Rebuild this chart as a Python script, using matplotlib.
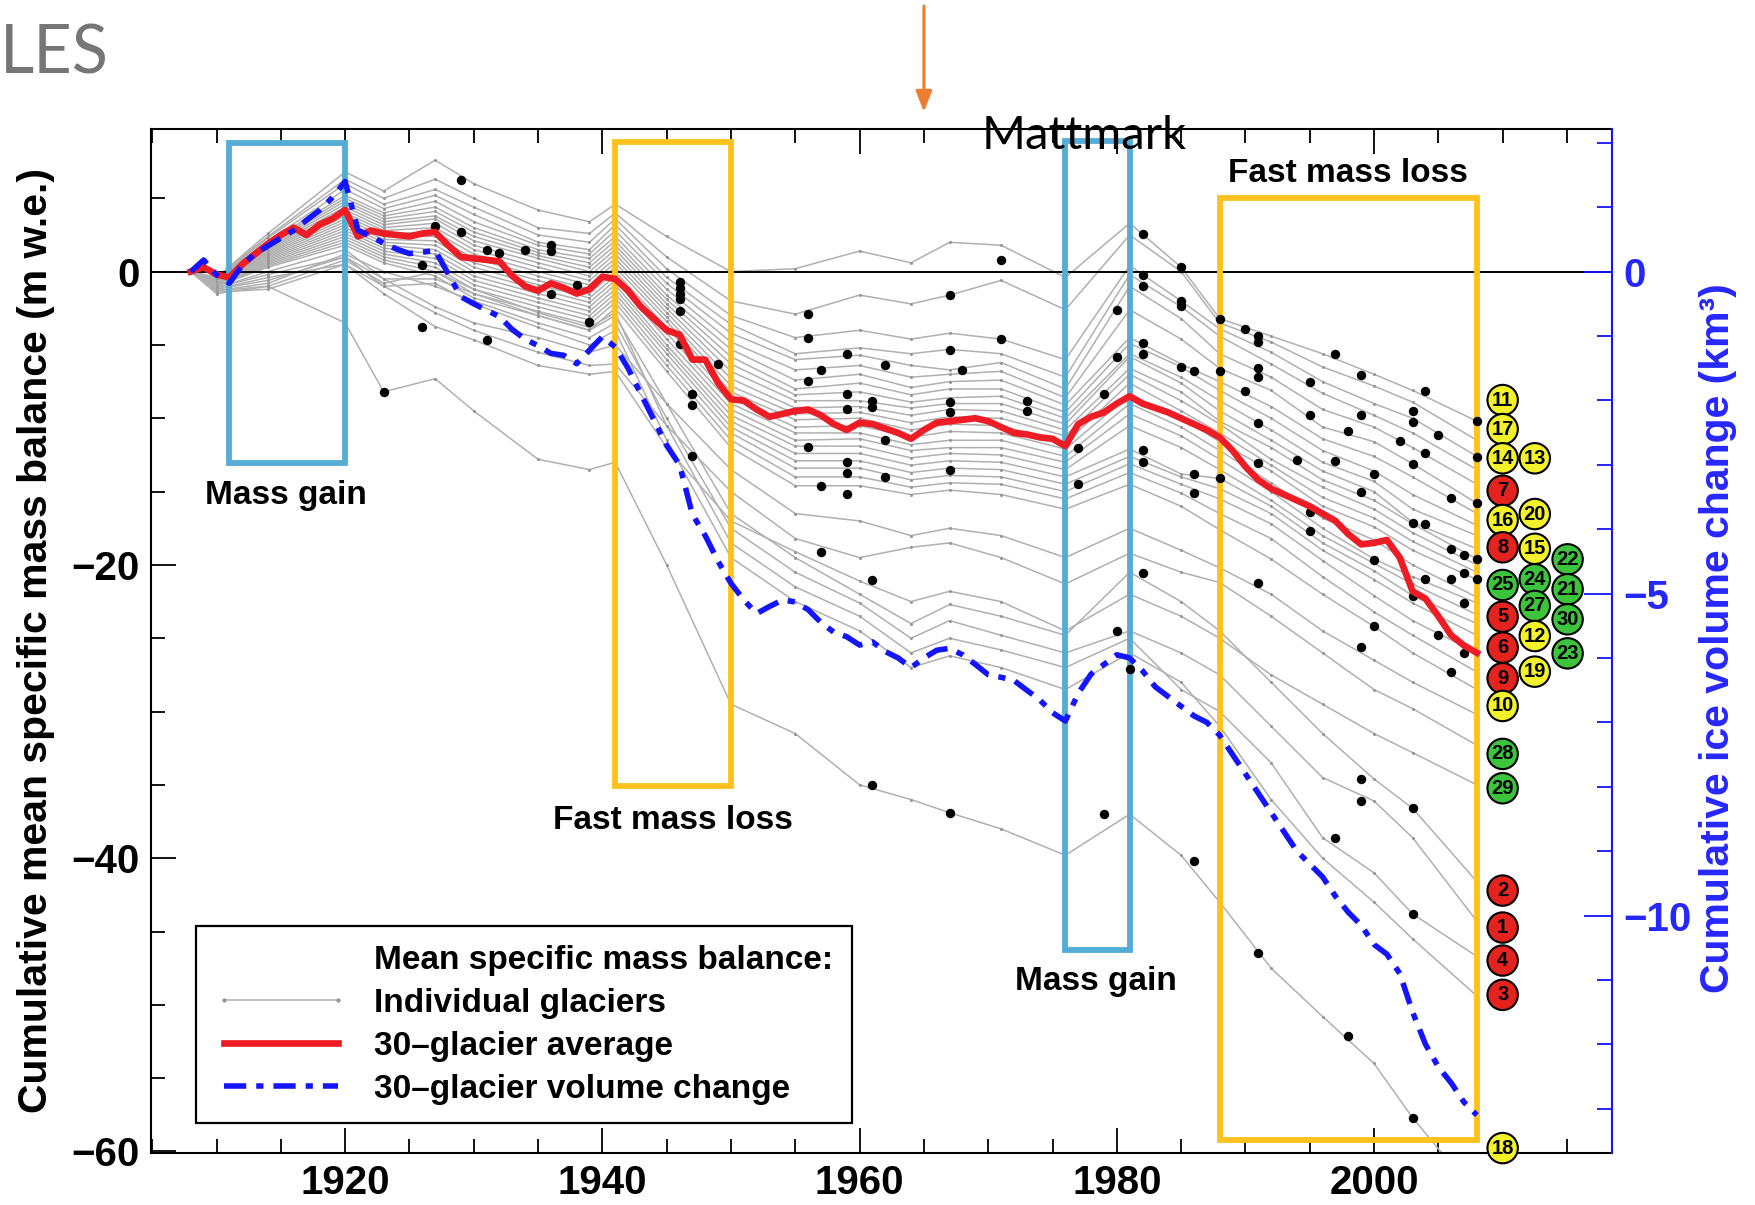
import matplotlib
matplotlib.use("Agg")
import matplotlib.pyplot as plt
from matplotlib.lines import Line2D
from matplotlib.patches import Rectangle
from matplotlib.ticker import MultipleLocator

plt.rcParams['font.family'] = ['Liberation Sans', 'DejaVu Sans']
plt.rcParams['font.weight'] = 'bold'
plt.rcParams['axes.labelweight'] = 'bold'

# ------------------------------------------------------------------ data
# knot years at which the individual glacier curves were read off
knot_years = [1908, 1910, 1914, 1920, 1923, 1927, 1930, 1935, 1939, 1941, 1945, 1950, 1955,
              1960, 1964, 1967, 1971, 1976, 1981, 1985, 1988, 1992, 1996, 2000, 2003, 2008]

g01 = [0, -0.4, 2.6, 6.8, 5.5, 7.6, 6.0, 4.2, 3.4, 4.6, 2.4, 0.0, 0.2, 1.4, 0.6, 2.0, 1.8, -0.4, 3.3, 0.3, -3.2, -4.4, -5.6, -7.0, -8.1, -10.2]
g02 = [0, -0.4, 2.4, 6.3, 5.0, 6.3, 5.0, 3.0, 2.6, 4.0, 1.0, -2.0, -2.9, -1.6, -2.2, -1.6, -0.6, -2.6, 2.5, 0.0, -3.5, -4.8, -6.5, -7.8, -8.9, -11.5]
g03 = [0, -0.5, 2.3, 6.0, 4.6, 5.6, 4.4, 2.5, 2.0, 3.6, 0.2, -3.0, -4.5, -4.0, -4.6, -4.2, -4.6, -6.0, 0.4, -2.0, -3.9, -5.5, -7.5, -9.0, -10.0, -12.6]
g04 = [0, -0.5, 2.1, 5.6, 4.3, 5.2, 3.9, 2.0, 1.5, 3.2, -0.4, -3.6, -5.6, -5.2, -5.6, -5.3, -5.6, -7.2, -0.2, -2.4, -4.4, -6.3, -8.3, -9.8, -11.0, -13.5]
g05 = [0, -0.5, 2.0, 5.2, 4.0, 4.8, 3.4, 1.8, 1.2, 2.8, -0.8, -4.2, -6.0, -5.7, -6.4, -6.7, -6.2, -8.0, -1.0, -3.2, -5.6, -7.2, -9.4, -10.6, -12.0, -14.5]
g06 = [0, -0.6, 1.9, 5.0, 3.8, 4.4, 3.0, 1.5, 0.9, 2.4, -1.2, -4.8, -6.7, -6.4, -7.2, -7.0, -6.8, -8.6, -2.6, -4.6, -6.6, -8.1, -10.6, -11.6, -13.1, -15.8]
g07 = [0, -0.6, 1.8, 4.8, 3.6, 4.1, 2.7, 1.3, 0.6, 2.1, -1.6, -5.3, -7.4, -7.0, -7.9, -7.5, -7.4, -9.1, -4.5, -6.3, -7.5, -9.2, -11.4, -12.6, -14.0, -16.5]
g08 = [0, -0.6, 1.7, 4.6, 3.4, 3.8, 2.4, 1.1, 0.3, 1.8, -1.9, -5.8, -8.0, -7.6, -8.4, -8.0, -8.0, -9.6, -4.9, -6.5, -8.1, -10.0, -12.2, -13.6, -15.2, -17.3]
g09 = [0, -0.7, 1.6, 4.4, 3.2, 3.6, 2.1, 0.9, 0.0, 1.5, -2.2, -6.3, -8.4, -8.2, -8.9, -8.6, -8.5, -10.0, -5.6, -7.2, -8.8, -10.8, -13.0, -14.3, -16.2, -18.0]
g10 = [0, -0.7, 1.5, 4.2, 3.0, 3.3, 1.8, 0.6, -0.3, 1.2, -2.5, -6.8, -8.8, -8.8, -9.3, -9.0, -9.0, -10.4, -5.8, -7.6, -9.5, -11.5, -13.6, -15.0, -17.1, -18.9]
g11 = [0, -0.7, 1.4, 4.0, 2.8, 3.0, 1.5, 0.3, -0.6, 0.9, -2.8, -7.3, -9.3, -9.2, -9.8, -9.4, -9.5, -10.8, -6.6, -8.2, -10.2, -12.0, -14.2, -15.6, -17.2, -19.6]
g12 = [0, -0.8, 1.3, 3.8, 2.6, 2.7, 1.2, 0.0, -0.9, 0.6, -3.1, -7.8, -9.7, -9.6, -10.3, -9.9, -10.0, -11.2, -7.0, -8.8, -10.4, -12.8, -14.7, -16.2, -17.8, -20.0]
g13 = [0, -0.8, 1.2, 3.6, 2.4, 2.4, 0.9, -0.3, -1.2, 0.3, -3.4, -8.2, -10.1, -10.0, -10.8, -10.4, -10.5, -11.7, -7.6, -9.5, -11.0, -13.2, -15.4, -16.8, -18.4, -20.5]
g14 = [0, -0.8, 1.1, 3.4, 2.2, 2.1, 0.6, -0.6, -1.5, 0.0, -3.8, -8.6, -10.6, -10.5, -11.3, -10.9, -11.0, -12.1, -8.4, -10.0, -11.6, -13.6, -16.0, -17.4, -19.0, -21.0]
g15 = [0, -0.8, 1.0, 3.2, 2.0, 1.8, 0.3, -0.9, -1.8, -0.3, -4.2, -9.0, -11.0, -11.0, -11.8, -11.5, -11.5, -12.6, -9.0, -10.6, -12.2, -14.4, -16.8, -18.3, -20.0, -22.2]
g16 = [0, -0.9, 0.9, 3.0, 1.8, 1.5, 0.0, -1.2, -2.1, -0.6, -4.6, -9.4, -11.5, -11.4, -12.2, -12.0, -12.0, -13.0, -9.7, -11.2, -12.8, -15.0, -17.5, -19.6, -20.8, -22.6]
g17 = [0, -0.9, 0.8, 2.8, 1.6, 1.2, -0.3, -1.5, -2.4, -0.9, -5.0, -9.8, -11.9, -11.9, -12.7, -12.4, -12.5, -13.5, -10.5, -12.0, -13.5, -15.6, -18.0, -19.9, -21.3, -23.4]
g18 = [0, -0.9, 0.7, 2.6, 1.4, 0.9, -0.6, -1.8, -2.7, -1.2, -5.3, -10.2, -12.4, -12.4, -13.2, -12.9, -13.0, -14.0, -12.1, -13.8, -14.1, -16.0, -18.5, -20.4, -22.1, -24.0]
g19 = [0, -1.0, 0.6, 2.4, 1.2, 0.6, -0.9, -2.1, -3.0, -1.5, -5.6, -10.6, -12.9, -12.9, -13.7, -13.4, -13.5, -14.5, -12.6, -14.0, -14.8, -16.5, -19.0, -21.0, -22.6, -24.8]
g20 = [0, -1.0, 0.5, 2.2, 1.0, 0.3, -1.2, -2.4, -3.3, -1.8, -6.0, -11.0, -13.4, -13.4, -14.2, -13.9, -14.0, -15.0, -13.1, -14.5, -15.5, -17.2, -19.7, -22.1, -23.8, -26.0]
g21 = [0, -1.0, 0.4, 2.0, 0.8, 0.0, -1.5, -2.7, -3.6, -2.1, -6.4, -11.5, -14.0, -14.0, -14.7, -14.4, -14.5, -15.5, -13.7, -15.1, -16.5, -18.2, -20.8, -23.2, -24.8, -27.3]
g22 = [0, -1.0, 0.3, 1.8, 0.6, -0.3, -1.8, -3.0, -4.0, -2.5, -6.8, -12.0, -14.6, -14.6, -15.2, -14.9, -15.2, -16.2, -14.5, -16.0, -17.6, -19.6, -22.0, -24.2, -26.0, -28.5]
g23 = [0, -1.1, 0.0, 1.5, -0.5, -2.4, -3.5, -4.5, -5.5, -5.0, -9.0, -13.5, -16.5, -17.0, -18.0, -17.5, -18.0, -19.5, -17.5, -19.0, -20.2, -22.0, -24.5, -26.5, -28.0, -30.2]
g24 = [0, -1.1, -0.2, 1.0, -1.0, -2.8, -4.0, -5.5, -6.4, -6.3, -10.5, -15.0, -18.2, -19.5, -18.8, -18.5, -19.5, -21.3, -19.2, -20.5, -21.2, -23.5, -26.0, -28.5, -29.8, -32.3]
g25 = [0, -1.2, -0.4, 0.5, -1.5, -3.75, -4.65, -6.4, -7.0, -6.8, -12.0, -17.0, -19.1, -21.1, -22.5, -21.8, -22.5, -24.5, -22.0, -23.5, -25.0, -27.5, -29.5, -31.5, -32.8, -35.0]
g26 = [0, -1.2, -0.6, 1.0, -0.5, -0.5, -1.5, -3.0, -4.0, -3.0, -9.0, -16.5, -19.5, -22.0, -24.0, -22.7, -23.5, -24.8, -20.5, -22.5, -24.5, -28.0, -31.5, -34.6, -36.6, -41.6]
g27 = [0, -1.3, -0.8, 1.2, 0.0, -1.0, -2.0, -3.5, -4.5, -3.5, -10.0, -17.5, -20.5, -22.6, -25.0, -23.8, -24.8, -26.0, -24.5, -26.0, -27.5, -31.0, -34.5, -36.1, -38.6, -44.3]
g28 = [0, -1.3, -1.0, 0.8, -0.8, 0.0, -1.2, -2.8, -3.8, -2.8, -10.5, -18.5, -21.5, -23.5, -26.0, -25.0, -25.8, -27.0, -25.0, -28.5, -30.0, -33.5, -38.6, -41.0, -43.8, -46.7]
g29 = [0, -1.4, -1.2, 0.5, -1.0, -0.8, -2.2, -3.8, -5.0, -4.0, -11.5, -19.5, -22.5, -24.5, -27.0, -26.2, -27.0, -28.5, -26.0, -28.0, -31.0, -36.0, -40.0, -43.0, -45.5, -49.4]
g30 = [0, -1.5, -1.0, -3.5, -8.2, -7.3, -9.5, -12.8, -13.5, -13.0, -20.0, -29.5, -31.5, -35.0, -36.0, -36.9, -38.0, -39.8, -37.0, -39.8, -43.0, -47.5, -50.8, -54.0, -57.7, -63.0]

# 30-glacier average (m w.e.), one value per year 1908..2008
avg_years = list(range(1908, 2009))
avg_mwe = [
    0.0, 0.3, -0.2, -0.4, 0.5, 1.2, 1.9, 2.5, 3.0, 2.5,
    3.2, 3.6, 4.2, 2.4, 2.8, 2.6, 2.5, 2.4, 2.6, 2.7,
    1.8, 1.0, 0.9, 0.8, 0.7, -0.3, -1.0, -1.3, -0.8, -1.1,
    -1.5, -1.2, -0.35, -0.5, -1.3, -2.4, -3.2, -4.0, -4.3, -6.0,
    -6.0, -7.6, -8.7, -8.8, -9.4, -9.9, -9.7, -9.5, -9.4, -9.8,
    -10.4, -10.8, -10.3, -10.4, -10.7, -11.0, -11.4, -10.8, -10.3, -10.2,
    -10.1, -10.0, -10.2, -10.6, -11.0, -11.1, -11.3, -11.4, -11.9, -10.4,
    -9.9, -9.6, -9.0, -8.5, -9.0, -9.3, -9.6, -10.0, -10.4, -10.8,
    -11.3, -12.2, -13.3, -14.2, -14.8, -15.2, -15.6, -16.0, -16.5, -17.0,
    -17.9, -18.6, -18.5, -18.3, -19.5, -21.8, -22.3, -23.5, -24.8, -25.5,
    -26.0]

# 30-glacier cumulative volume change (km^3), one value per year 1908..2008
vol_km3 = [
    0.0, 0.18, -0.05, -0.18, 0.1, 0.28, 0.4, 0.52, 0.64, 0.8,
    0.95, 1.15, 1.4, 0.64, 0.55, 0.44, 0.35, 0.28, 0.3, 0.33,
    -0.03, -0.39, -0.5, -0.6, -0.7, -0.9, -1.05, -1.15, -1.27, -1.3,
    -1.43, -1.22, -1.01, -1.17, -1.5, -1.9, -2.3, -2.7, -3.0, -3.77,
    -4.1, -4.5, -4.84, -5.1, -5.31, -5.2, -5.1, -5.13, -5.25, -5.45,
    -5.6, -5.67, -5.8, -5.75, -5.9, -6.0, -6.15, -6.0, -5.88, -5.85,
    -5.95, -6.1, -6.26, -6.3, -6.35, -6.5, -6.65, -6.85, -6.98, -6.55,
    -6.25, -6.1, -5.95, -6.0, -6.2, -6.45, -6.6, -6.75, -6.9, -7.0,
    -7.2, -7.5, -7.8, -8.1, -8.4, -8.7, -9.0, -9.2, -9.4, -9.7,
    -9.95, -10.15, -10.45, -10.6, -10.9, -11.5, -12.0, -12.35, -12.6, -12.9,
    -13.1]

# measurement years (black dots)
dot_years = [1929, 1929, 1927, 1926, 1926, 1923, 1931, 1931, 1932, 1934, 1936, 1936, 1936, 1938, 1939,
             1946, 1946, 1946, 1946, 1946, 1946, 1947, 1947, 1947, 1949,
             1956, 1956, 1956, 1956, 1957, 1957, 1957, 1959, 1959, 1959, 1959, 1959, 1959,
             1961, 1961, 1961, 1961, 1962, 1962, 1962,
             1967, 1967, 1967, 1967, 1967, 1967, 1968, 1971, 1971, 1973, 1973, 1977, 1977,
             1979, 1979, 1980, 1980, 1980, 1981,
             1982, 1982, 1982, 1982, 1982, 1982, 1982, 1982,
             1985, 1985, 1985, 1985, 1986, 1986, 1986, 1986, 1988, 1988, 1988, 1990, 1990,
             1991, 1991, 1991, 1991, 1991, 1991, 1991, 1991, 1994, 1995, 1995, 1995, 1995,
             1997, 1997, 1997, 1998, 1998, 1999, 1999, 1999, 1999, 1999, 1999,
             2000, 2000, 2000, 2002, 2003, 2003, 2003, 2003, 2003, 2003, 2003, 2003,
             2004, 2004, 2004, 2004, 2005, 2005, 2006, 2006, 2006, 2006,
             2007, 2007, 2007, 2007, 2008, 2008, 2008, 2008, 2008]
dot_mwe = [6.25, 2.68, 3.08, 0.48, -3.75, -8.19, 1.5, -4.65, 1.27, 1.5, 1.84, 1.39, -1.55, -0.92, -3.41,
           -0.7, -1.1, -1.5, -1.9, -2.69, -4.95, -8.34, -9.1, -12.6, -6.3,
           -2.9, -4.5, -7.45, -11.95, -6.7, -14.6, -19.1, -5.65, -8.35, -9.4, -13.0, -13.7, -15.15,
           -8.8, -9.2, -21.05, -35.0, -6.37, -11.45, -14.0,
           -1.6, -5.35, -8.9, -9.6, -13.5, -36.9, -6.7, 0.82, -4.6, -8.8, -9.5, -12.0, -14.5,
           -8.35, -37.0, -2.6, -5.8, -24.5, -27.08,
           2.57, -0.2, -1.0, -4.9, -5.6, -12.15, -13.0, -20.54,
           0.31, -2.0, -2.35, -6.52, -6.77, -13.82, -15.08, -40.2, -3.2, -6.77, -14.1, -3.93, -8.13,
           -4.41, -4.78, -6.6, -7.2, -10.35, -13.07, -21.22, -46.45, -12.82, -7.52, -9.8, -16.42, -17.7,
           -5.63, -12.9, -38.6, -10.84, -52.1, -7.03, -9.78, -15.04, -25.63, -34.6, -36.1,
           -13.82, -19.64, -24.17, -11.57, -9.5, -10.24, -13.1, -17.14, -22.12, -36.6, -43.8, -57.7,
           -8.13, -12.37, -17.22, -20.95, -11.15, -24.78, -15.45, -18.91, -20.95, -27.33,
           -19.33, -20.54, -22.6, -26.04, -10.18, -12.61, -15.81, -19.57, -20.95]

# glacier number markers at the right (number, column index, level in m w.e.)
circ_ids = [11, 17, 14, 7, 16, 8, 25, 5, 6, 9, 10, 28, 29, 2, 1, 4, 3, 18,
            13, 20, 15, 24, 27, 12, 19,
            22, 21, 30, 23]
circ_col = [0] * 18 + [1] * 7 + [2] * 4
circ_y = [-8.76, -10.74, -12.73, -14.94, -16.94, -18.8, -21.37, -23.53, -25.64, -27.73, -29.62,
          -32.89, -35.23, -42.21, -44.73, -46.98, -49.32, -59.77,
          -12.73, -16.53, -18.9, -20.98, -22.8, -24.85, -27.28,
          -19.62, -21.66, -23.71, -26.03]

# highlighted periods
period_start = [1911, 1941, 1976, 1988]
period_end = [1920, 1950, 1981, 2008]
period_top = [8.74, 8.85, 8.9, 5.02]
period_bottom = [-13.07, -35.07, -46.29, -59.2]
period_kind = ['gain', 'loss', 'gain', 'loss']
period_label = ['Mass gain', 'Fast mass loss', 'Mass gain', 'Fast mass loss']
period_label_x = [1915.4, 1945.5, 1978.4, 1998.0]
period_label_y = [-15.3, -37.4, -48.4, 6.67]

mattmark_year = 1965

# ------------------------------------------------------------------ style
GRAY = '#b0b0b0'
RED = '#EE1C24'
BLUE = '#1414FF'
BLUE_TXT = '#2626FF'
BOX_BLUE = '#55ADD6'
BOX_ORANGE = '#FFC11E'
CIRC_COLORS = {'red': '#E5231E', 'yellow': '#F2F22A', 'green': '#3DC43D'}
COL_X = [2010.0, 2012.5, 2015.05]

fig = plt.figure(figsize=(17.55, 12.05), dpi=100)
fig.patch.set_facecolor('white')
ax = fig.add_axes([0.0860, 0.0432, 0.8325, 0.8498])
ax2 = ax.twinx()

ax.set_xlim(1904.9, 2018.5)
ax.set_ylim(-60.1, 9.73)
ax2.set_ylim(-60.1 / 4.391, 9.73 / 4.391)

glaciers = [g01, g02, g03, g04, g05, g06, g07, g08, g09, g10, g11, g12, g13, g14, g15,
            g16, g17, g18, g19, g20, g21, g22, g23, g24, g25, g26, g27, g28, g29, g30]
gray_handle = None
for g in glaciers:
    xs = [x for x, _ in zip(knot_years, g)]
    ys = [y for _, y in zip(knot_years, g)]
    ln, = ax.plot(xs, ys, color=GRAY, lw=1.1, marker='o', ms=2.2, mfc='#969696', mec='none', zorder=2)
    if gray_handle is None:
        gray_handle = ln

ax.axhline(0, color='black', lw=1.4, zorder=2.2)

ax.scatter(dot_years, dot_mwe, s=46, color='black', linewidths=0, zorder=4)

for x0, x1, y0, y1, kind, lab, lx, ly in zip(period_start, period_end, period_bottom, period_top,
                                           period_kind, period_label, period_label_x, period_label_y):
    ec = BOX_BLUE if kind == 'gain' else BOX_ORANGE
    ax.add_patch(Rectangle((x0, y0), x1 - x0, y1 - y0, fill=False, ec=ec, lw=4.2, zorder=3))
    ax.text(lx, ly, lab, ha='center', va='center', fontsize=24, fontweight='bold', zorder=6)

red_line, = ax.plot(avg_years, avg_mwe, color=RED, lw=4.8, zorder=5, solid_joinstyle='round')
blue_line, = ax2.plot(avg_years, vol_km3, color=BLUE, lw=4.0, linestyle=(0, (4, 1.8, 1.3, 1.8)),
                      zorder=5)

# glacier number markers
cx = [COL_X[c] for c in circ_col]
ccol = [CIRC_COLORS['red'] if n <= 9 else (CIRC_COLORS['yellow'] if n <= 20 else CIRC_COLORS['green'])
        for n in circ_ids]
ax.scatter(cx, circ_y, s=480, c=ccol, edgecolors='black', linewidths=1.5, zorder=7, clip_on=False)
for n, x, y in zip(circ_ids, cx, circ_y):
    ax.text(x, y, str(n), ha='center', va='center', fontsize=14.5, fontweight='bold', zorder=8,
            clip_on=False)

# axes cosmetics
for s in ['left', 'top', 'bottom']:
    ax.spines[s].set_linewidth(1.5)
ax.spines['right'].set_visible(False)
for s in ['left', 'top', 'bottom']:
    ax2.spines[s].set_visible(False)
ax2.spines['right'].set_color(BLUE)
ax2.spines['right'].set_linewidth(1.5)

ax.xaxis.set_major_locator(MultipleLocator(20))
ax.xaxis.set_minor_locator(MultipleLocator(5))
ax.yaxis.set_major_locator(MultipleLocator(20))
ax.yaxis.set_minor_locator(MultipleLocator(5))
ax2.yaxis.set_major_locator(MultipleLocator(5))
ax2.yaxis.set_minor_locator(MultipleLocator(1))

ax.tick_params(axis='both', which='major', direction='in', length=18, width=1.3, labelsize=29,
               top=True, right=False, pad=8)
ax.tick_params(axis='both', which='minor', direction='in', length=10, width=1.3, top=True, right=False)
ax2.tick_params(axis='y', which='major', direction='in', length=20, width=1.3, colors=BLUE_TXT,
                labelsize=29, pad=8)
ax2.tick_params(axis='y', which='minor', direction='in', length=11, width=1.3, colors=BLUE_TXT)
ax2.tick_params(axis='y', which='both', color=BLUE)

ax.set_ylabel('Cumulative mean specific mass balance (m w.e.)', fontsize=29.5, fontweight='bold')
ax.yaxis.set_label_coords(-0.066, 0.5)
ax2.set_ylabel('Cumulative ice volume change (km³)', fontsize=29.5, fontweight='bold', color=BLUE_TXT)
ax2.yaxis.set_label_coords(1.0596, 0.503)

title_handle = Line2D([], [], color='none')
leg = ax2.legend([title_handle, gray_handle, red_line, blue_line],
                 ['Mean specific mass balance:', 'Individual glaciers', '30–glacier average',
                  '30–glacier volume change'],
                 loc='lower left', bbox_to_anchor=(0.0308, 0.0293), borderaxespad=0,
                 prop={'size': 24, 'weight': 'bold'}, frameon=True, fancybox=False,
                 edgecolor='black', framealpha=1, handlelength=4.0, handletextpad=0.8,
                 borderpad=0.55, labelspacing=0.36, numpoints=2, markerscale=1.4)
leg.get_frame().set_linewidth(1.6)

# slide decorations
fig.text(0.0, 1 - 73 / 1205, 'LES', family='Lato', fontsize=48, color='#767676',
         fontweight='normal', ha='left', va='baseline')
fig.text(1084 / 1755, 1 - 149 / 1205, 'Mattmark', family='Lato', fontsize=34, color='black',
         fontweight='normal', ha='center', va='baseline')
ax.annotate('', xy=(mattmark_year, 1 - 112 / 1205), xycoords=('data', 'figure fraction'),
            xytext=(mattmark_year, 1 - 6 / 1205), textcoords=('data', 'figure fraction'),
            arrowprops=dict(arrowstyle='-|>,head_length=0.9,head_width=0.35', color='#ED7D31',
                            lw=2.2, mutation_scale=14, shrinkA=0, shrinkB=0),
            annotation_clip=False)

fig.savefig('out.png', dpi=100)
